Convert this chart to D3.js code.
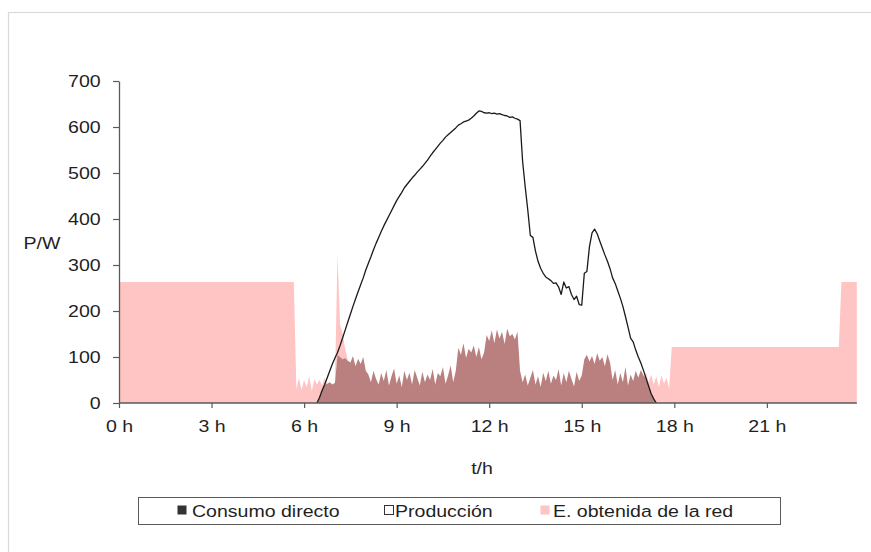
<!DOCTYPE html>
<html><head><meta charset="utf-8">
<script src="https://cdn.jsdelivr.net/npm/d3@7"></script>
<style>
body{margin:0;background:#fff;}
svg text{font-family:"Liberation Sans",Arial,sans-serif;fill:#1f1f1f;}
</style></head><body>
<svg id="c" width="871" height="552"></svg>
<script>
// 5-minute intervals, one row per hour
const intervalosPorHora = 12;

const directo = [
  0,0,0,0,0,0,0,0,0,0,0,0,
  0,0,0,0,0,0,0,0,0,0,0,0,
  0,0,0,0,0,0,0,0,0,0,0,0,
  0,0,0,0,0,0,0,0,0,0,0,0,
  0,0,0,0,0,0,0,0,0,0,0,0,
  0,0,0,0,0,0,0,0,0,0,0,0,
  0,0,0,0,0,0,12,27,40,42,45,40,
  44,105,100,95,98,92,88,102,80,96,85,100,
  70,62,45,70,52,40,65,48,72,38,58,75,
  42,60,35,70,50,66,40,72,55,38,68,45,
  62,50,74,40,65,58,78,42,60,82,45,70,
  120,105,130,98,118,110,125,100,122,95,110,148,
  135,158,130,160,140,155,128,162,145,150,138,155,
  70,45,62,38,55,72,40,58,35,66,48,70,
  42,60,50,74,38,65,45,70,52,36,68,48,
  60,95,105,90,102,85,108,92,100,80,106,88,
  50,72,40,65,45,78,38,62,48,70,55,72,
  60,54,37,20,9,0,0,0,0,0,0,0,
  0,0,0,0,0,0,0,0,0,0,0,0,
  0,0,0,0,0,0,0,0,0,0,0,0,
  0,0,0,0,0,0,0,0,0,0,0,0,
  0,0,0,0,0,0,0,0,0,0,0,0,
  0,0,0,0,0,0,0,0,0,0,0,0,
  0,0,0,0,0,0,0,0,0,0,0,0
];

const red = [
  263,263,263,263,263,263,263,263,263,263,263,263,
  263,263,263,263,263,263,263,263,263,263,263,263,
  263,263,263,263,263,263,263,263,263,263,263,263,
  263,263,263,263,263,263,263,263,263,263,263,263,
  263,263,263,263,263,263,263,263,263,263,263,263,
  263,263,263,263,263,263,263,263,263,30,55,28,
  50,35,58,26,52,40,38,11,15,0,0,0,
  0,217,70,55,20,0,0,0,0,0,0,0,
  0,0,0,0,0,0,0,0,0,0,0,0,
  0,0,0,0,0,0,0,0,0,0,0,0,
  0,0,0,0,0,0,0,0,0,0,0,0,
  0,0,0,0,0,0,0,0,0,0,0,0,
  0,0,0,0,0,0,0,0,0,0,0,0,
  0,0,0,0,0,0,0,0,0,0,0,0,
  0,0,0,0,0,0,0,0,0,0,0,0,
  0,0,0,0,0,0,0,0,0,0,0,0,
  0,0,0,0,0,0,0,0,0,0,0,0,
  0,11,8,42,31,58,35,60,42,55,30,122,
  122,122,122,122,122,122,122,122,122,122,122,122,
  122,122,122,122,122,122,122,122,122,122,122,122,
  122,122,122,122,122,122,122,122,122,122,122,122,
  122,122,122,122,122,122,122,122,122,122,122,122,
  122,122,122,122,122,122,122,122,122,122,122,122,
  122,122,122,122,122,263,263,263,263,263,263,263
];

const produccion = [
  null,null,null,null,null,null,null,null,null,null,null,null,
  null,null,null,null,null,null,null,null,null,null,null,null,
  null,null,null,null,null,null,null,null,null,null,null,null,
  null,null,null,null,null,null,null,null,null,null,null,null,
  null,null,null,null,null,null,null,null,null,null,null,null,
  null,null,null,null,null,null,null,null,null,null,null,null,
  null,null,null,null,null,0,12,27,40,55,70,85,
  98,110,125,142,159,176,193,210,226,242,257,272,
  289,304,318,333,347,360,373,385,396,407,418,429,
  440,449,458,468,475,482,489,495,502,508,514,521,
  528,536,544,551,558,565,571,578,583,588,593,598,
  604,607,611,613,615,619,624,630,635,634,631,630,
  631,629,630,628,629,627,625,624,621,622,619,617,
  614,525,470,420,364,360,330,308,293,282,274,270,
  266,260,261,252,236,263,250,253,236,225,232,214,
  213,282,286,340,370,378,368,352,337,322,308,292,
  272,260,244,228,210,188,165,141,133,115,100,87,
  71,54,37,20,9,0,null,null,null,null,null,null,
  null,null,null,null,null,null,null,null,null,null,null,null,
  null,null,null,null,null,null,null,null,null,null,null,null,
  null,null,null,null,null,null,null,null,null,null,null,null,
  null,null,null,null,null,null,null,null,null,null,null,null,
  null,null,null,null,null,null,null,null,null,null,null,null,
  null,null,null,null,null,null,null,null,null,null,null,null
];

const ticksHoras = [0, 3, 6, 9, 12, 15, 18, 21];
const ticksPotencia = [0, 100, 200, 300, 400, 500, 600, 700];
const nombresSeries = ["Consumo directo", "Producción", "E. obtenida de la red"];
const ejeX = "t/h", ejeY = "P/W";

const colDirecto = "#BA8080", colRed = "#FFC4C4", colProd = "#1a1a1a", colEje = "#5a5a5a";
const SX = 1.15; // horizontal text stretch seen in the reference
const FS = 17;

const svg = d3.select("#c");
svg.append("rect").attr("x", 8.5).attr("y", 12.5).attr("width", 900).attr("height", 600)
  .attr("fill", "none").attr("stroke", "#d9d9d9").attr("stroke-width", 1.2);

const x = d3.scaleLinear().domain([0, 24]).range([119, 859.4]);
const y = d3.scaleLinear().domain([0, 700]).range([403, 81]);

const datos = directo.map((d, i) => ({ t: i / intervalosPorHora, directo: d, red: red[i], prod: produccion[i] }));
const apilado = d3.stack().keys(["directo", "red"])(datos);
const area = d3.area().x(d => x(d.data.t)).y0(d => y(d[0])).y1(d => y(d[1]));

svg.append("path").datum(apilado[1]).attr("fill", colRed).attr("d", area);
svg.append("path").datum(apilado[0]).attr("fill", colDirecto).attr("d", area);

const linea = d3.line().defined(d => d.prod != null).x(d => x(d.t)).y(d => y(d.prod));
svg.append("path").datum(datos).attr("fill", "none").attr("stroke", colProd)
  .attr("stroke-width", 1.3).attr("stroke-linejoin", "round").attr("d", linea);

// Y axis
const gy = svg.append("g").attr("transform", "translate(119,0)")
  .call(d3.axisLeft(y).tickValues(ticksPotencia).tickSize(6).tickSizeOuter(0).tickPadding(10).tickFormat(d3.format("d")));
gy.select(".domain").attr("stroke", colEje).attr("stroke-width", 1.3);
gy.selectAll(".tick line").attr("stroke", colEje).attr("stroke-width", 1.2);
gy.selectAll(".tick text").attr("font-size", FS).attr("fill", "#1f1f1f")
  .attr("font-family", "Liberation Sans, Arial, sans-serif").attr("transform", `scale(${SX},1)`);

// X axis
const ultimo = (datos.length - 1) / intervalosPorHora;
const gx = svg.append("g").attr("transform", "translate(0,403)")
  .call(d3.axisBottom(x).tickValues(ticksHoras).tickSize(5).tickSizeOuter(0).tickPadding(11.5).tickFormat(d => d + " h"));
gx.select(".domain").remove();
gx.append("line").attr("x1", x(0)).attr("x2", x(ultimo)).attr("y1", 0).attr("y2", 0)
  .attr("stroke", colEje).attr("stroke-width", 1.3);
gx.selectAll(".tick line").attr("stroke", colEje).attr("stroke-width", 1.2);
gx.selectAll(".tick text").attr("font-size", FS).attr("fill", "#1f1f1f")
  .attr("font-family", "Liberation Sans, Arial, sans-serif").attr("transform", `scale(${SX},1)`);

function texto(tx, ty, s, anchor) {
  return svg.append("text").attr("transform", `translate(${tx},${ty}) scale(${SX},1)`)
    .attr("text-anchor", anchor || "start").attr("font-size", FS).text(s);
}
texto(42, 249, ejeY, "middle");
texto(482, 474, ejeX, "middle");

// Legend
svg.append("rect").attr("x", 138.5).attr("y", 497.5).attr("width", 642).attr("height", 27)
  .attr("fill", "#fff").attr("stroke", colEje).attr("stroke-width", 1);
const leyenda = [
  { nombre: nombresSeries[0], mx: 177, tx: 192, fill: "#333", stroke: "none" },
  { nombre: nombresSeries[1], mx: 384, tx: 395, fill: "#fff", stroke: "#333" },
  { nombre: nombresSeries[2], mx: 540, tx: 553, fill: colRed, stroke: "none" }
];
leyenda.forEach(l => {
  svg.append("rect").attr("x", l.mx + 0.5).attr("y", 505.5).attr("width", 9).attr("height", 9)
    .attr("fill", l.fill).attr("stroke", l.stroke).attr("stroke-width", 1);
  texto(l.tx, 517, l.nombre, "start");
});
</script>
</body></html>
